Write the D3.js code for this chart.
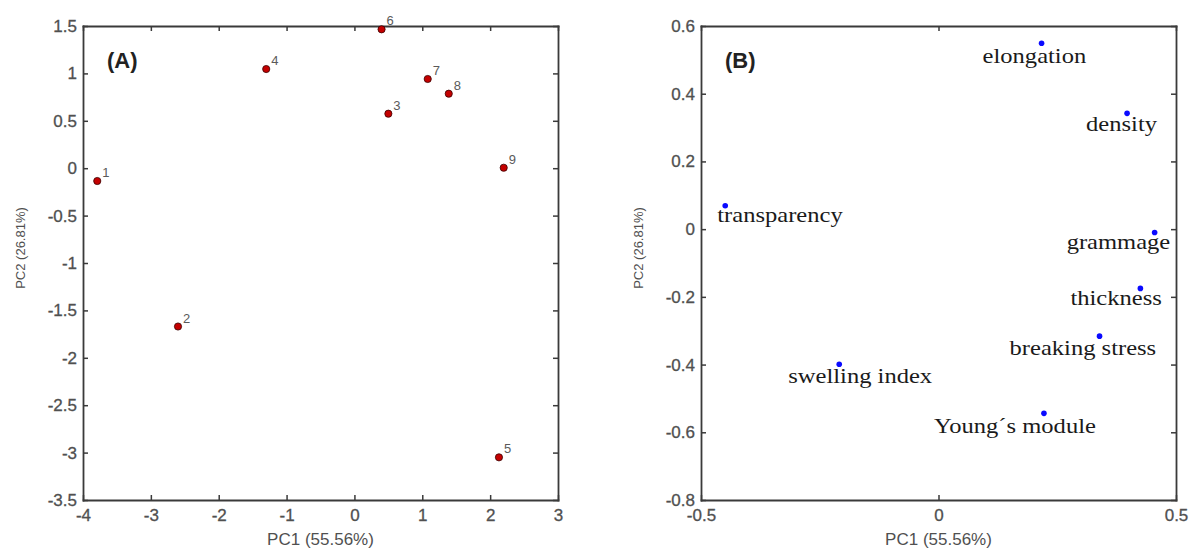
<!DOCTYPE html>
<html><head><meta charset="utf-8">
<script src="https://cdn.jsdelivr.net/npm/d3@7"></script>
<style>body{margin:0;background:#fff}svg{display:block}</style>
</head><body>
<script>
// ---- data ----
const scoreIds = ["1","2","3","4","5","6","7","8","9"];
const scorePC1 = [-3.79,-2.60,0.50,-1.30,2.13,0.40,1.08,1.39,2.20];
const scorePC2 = [-0.135,-1.67,0.575,1.046,-3.05,1.465,0.941,0.786,0.005];

const loadNames = ["elongation","density","transparency","grammage","thickness","breaking stress","swelling index","Young\u00B4s module"];
const loadPC1 = [0.217,0.397,-0.449,0.455,0.425,0.339,-0.209,0.222];
const loadPC2 = [0.549,0.342,0.069,-0.010,-0.175,-0.316,-0.399,-0.544];

const ticksA_x = [-4,-3,-2,-1,0,1,2,3];
const ticksA_y = [1.5,1,0.5,0,-0.5,-1,-1.5,-2,-2.5,-3,-3.5];
const ticksB_x = [-0.5,0,0.5];
const ticksB_y = [0.6,0.4,0.2,0,-0.2,-0.4,-0.6,-0.8];

const xTitle = "PC1 (55.56%)";
const yTitle = "PC2 (26.81%)";

// label placement offsets (px) for loadings text
const loadLabelShift = [[-59,20],[-41,18],[-8,16],[-88,16],[-70,17],[-90,19],[-51,19],[-110,20]];

// ---- drawing ----
const W = 1191, H = 550;
const svg = d3.select("body").append("svg").attr("width",W).attr("height",H);
const axisColor = "#3a3a3a", tickText = "#505050";
const sans = "'Liberation Sans', Arial, sans-serif";

function panel(x0,x1,y0,y1,xdom,ydom,xt,yt,tag,tagX){
  const x = d3.scaleLinear().domain(xdom).range([x0,x1]);
  const y = d3.scaleLinear().domain(ydom).range([y1,y0]);
  const g = svg.append("g");
  const fmt = d => String(d);
  const styleAxis = sel => {
    sel.selectAll("path.domain").attr("stroke",axisColor).attr("stroke-width",1.8).attr("stroke-linecap","square");
    sel.selectAll(".tick line").attr("stroke",axisColor).attr("stroke-width",1.5);
    sel.selectAll("text").attr("fill",tickText).attr("font-family",sans).attr("font-size",17)
      .attr("stroke",tickText).attr("stroke-width",0.3);
  };
  g.append("g").attr("transform",`translate(0,${y1})`)
    .call(d3.axisBottom(x).tickValues(xt).tickFormat(fmt).tickSizeInner(-5).tickSizeOuter(0).tickPadding(9)).call(styleAxis);
  g.append("g").attr("transform",`translate(0,${y0})`)
    .call(d3.axisTop(x).tickValues(xt).tickFormat("").tickSizeInner(-5).tickSizeOuter(0)).call(styleAxis);
  g.append("g").attr("transform",`translate(${x0},0)`)
    .call(d3.axisLeft(y).tickValues(yt).tickFormat(fmt).tickSizeInner(-5).tickSizeOuter(0).tickPadding(6)).call(styleAxis);
  g.append("g").attr("transform",`translate(${x1},0)`)
    .call(d3.axisRight(y).tickValues(yt).tickFormat("").tickSizeInner(-5).tickSizeOuter(0)).call(styleAxis);
  // titles
  g.append("text").attr("x",(x0+x1)/2).attr("y",545).attr("text-anchor","middle")
    .attr("font-family",sans).attr("font-size",17).attr("fill",tickText).text(xTitle);
  g.append("text").attr("transform",`translate(${x0-58},248) rotate(-90)`).attr("text-anchor","middle")
    .attr("font-family",sans).attr("font-size",13).attr("fill",tickText).text(yTitle);
  g.append("text").attr("x",tagX).attr("y",68).attr("font-family",sans)
    .attr("font-weight","bold").attr("font-size",22).attr("fill","#222").text(tag);
  return {g,x,y};
}

// Panel A
const A = panel(83,558,26,500,[-4,3],[-3.5,1.5],ticksA_x,ticksA_y,"(A)",107);
A.g.selectAll("circle.s").data(scoreIds).join("circle").attr("class","s")
  .attr("cx",(d,i)=>A.x(scorePC1[i])).attr("cy",(d,i)=>A.y(scorePC2[i])).attr("r",3.6)
  .attr("fill","#c40000").attr("stroke","#3a0000").attr("stroke-width",0.8);
A.g.selectAll("text.s").data(scoreIds).join("text").attr("class","s")
  .attr("x",(d,i)=>A.x(scorePC1[i])+5).attr("y",(d,i)=>A.y(scorePC2[i])-4)
  .attr("font-family",sans).attr("font-size",13).attr("fill","#5a5a5a").text(d=>d);

// Panel B
const B = panel(701,1176,26,500,[-0.5,0.5],[-0.8,0.6],ticksB_x,ticksB_y,"(B)",725);
B.g.selectAll("circle.l").data(loadNames).join("circle").attr("class","l")
  .attr("cx",(d,i)=>B.x(loadPC1[i])).attr("cy",(d,i)=>B.y(loadPC2[i])).attr("r",2.8)
  .attr("fill","#0a0aff");
B.g.selectAll("text.l").data(loadNames).join("text").attr("class","l")
  .attr("transform",(d,i)=>`translate(${B.x(loadPC1[i])+loadLabelShift[i][0]},${B.y(loadPC2[i])+loadLabelShift[i][1]}) scale(1.17,1)`)
  .attr("font-family","'Liberation Serif', 'Times New Roman', serif").attr("font-size",21).attr("fill","#1a1a1a").text(d=>d);
</script>
</body></html>
